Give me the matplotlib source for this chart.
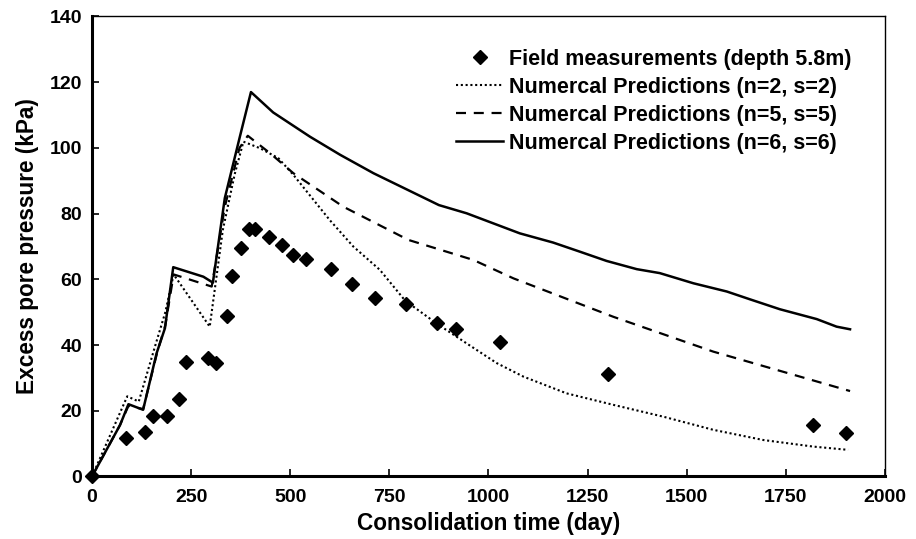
import matplotlib
matplotlib.use("Agg")
import matplotlib.pyplot as plt

plt.rcParams['font.family'] = ['Liberation Sans', 'DejaVu Sans']

# Field measurements (depth 5.8 m)
field_days = [0, 87, 134, 155, 189, 219, 237, 292, 314, 341, 353, 375, 395, 410,
              446, 479, 506, 541, 602, 655, 715, 792, 871, 917, 1029, 1301, 1819, 1902]
field_kpa = [0, 11.6, 13.5, 18.4, 18.4, 23.6, 34.8, 36.2, 34.5, 48.8, 61.1, 69.5, 75.3, 75.3,
             73.0, 70.4, 67.3, 66.1, 63.1, 58.6, 54.3, 52.5, 46.8, 44.8, 40.9, 31.1, 15.6, 13.1]

# Numerical predictions (n=2, s=2)
n2_days = [0, 89, 118, 160, 185, 206, 297, 330, 360, 382, 424, 470, 508, 600, 659, 726,
           790, 870, 945, 1021, 1088, 1197, 1315, 1441, 1567, 1693, 1819, 1907]
n2_kpa = [0, 24.4, 22.8, 40, 50, 61.5, 45.6, 75, 92, 101.9, 99.9, 96.9, 91.8, 78, 70, 62.9,
          53.5, 46.5, 40.5, 34.5, 30.4, 25.3, 21.8, 18.2, 14.2, 11.1, 9.1, 8.1]

# Numerical predictions (n=5, s=5)
n5_days = [0, 70, 92, 129, 165, 185, 206, 302, 335, 372, 393, 449, 508, 634, 798, 962,
           1063, 1315, 1567, 1912]
n5_kpa = [0, 15.5, 21.5, 20.5, 38, 46, 61.5, 57.8, 82, 100, 103.7, 98.4, 92.3, 82.1, 72,
          65.9, 60.3, 48.6, 38.0, 26.0]

# Numerical predictions (n=6, s=6)
n6_days = [0, 71, 92, 129, 163, 184, 205, 281, 305, 335, 373, 401, 457, 550, 626, 710,
           875, 945, 1079, 1163, 1231, 1298, 1374, 1432, 1517, 1601, 1660, 1735, 1828, 1878, 1912]
n6_kpa = [0, 15.7, 22.0, 20.3, 37.5, 45.1, 63.7, 60.8, 59.0, 84.7, 103.4, 117.0, 110.8,
          103.4, 97.9, 92.3, 82.6, 80.1, 74.0, 71.2, 68.4, 65.6, 63.1, 61.9, 58.8, 56.3,
          53.9, 50.9, 47.9, 45.6, 44.8]

x_ticks = [0, 250, 500, 750, 1000, 1250, 1500, 1750, 2000]
y_ticks = [0, 20, 40, 60, 80, 100, 120, 140]

fig = plt.figure(figsize=(9.16, 5.39), dpi=100)
ax = fig.add_axes([0.1004, 0.116, 0.8657, 0.8534])

ax.plot(field_days, field_kpa, linestyle='none', marker='D', markersize=7,
        color='black', label='Field measurements (depth 5.8m)', clip_on=False, zorder=5)
ax.plot(n2_days, n2_kpa, color='black', lw=1.5, linestyle=(0, (1, 1.3)),
        label='Numercal Predictions (n=2, s=2)')
ax.plot(n5_days, n5_kpa, color='black', lw=1.6, linestyle=(0, (4.5, 3.5)),
        label='Numercal Predictions (n=5, s=5)')
ax.plot(n6_days, n6_kpa, color='black', lw=1.8, linestyle='-',
        label='Numercal Predictions (n=6, s=6)')

ax.set_xlim(0, 2000)
ax.set_ylim(0, 140)
ax.set_xticks(x_ticks)
ax.set_yticks(y_ticks)
ax.tick_params(direction='in', length=5, width=1.2, labelsize=14)
ax.tick_params(axis='x', pad=9)
ax.tick_params(axis='y', pad=7)
for lab in ax.get_xticklabels() + ax.get_yticklabels():
    lab.set_fontweight('bold')

for s in ['left', 'bottom']:
    ax.spines[s].set_linewidth(2.2)
for s in ['top', 'right']:
    ax.spines[s].set_linewidth(1.0)

ax.set_xlabel('Consolidation time (day)', fontsize=16.3, fontweight='bold', labelpad=4)
ax.set_ylabel('Excess pore pressure (kPa)', fontsize=16.3, fontweight='bold', labelpad=8)

leg = ax.legend(loc='upper right', bbox_to_anchor=(0.969, 0.949), frameon=False,
                prop={'weight': 'bold', 'size': 15.5}, handlelength=2.2,
                handletextpad=0.28, labelspacing=0.33, borderaxespad=0.0)

fig.savefig('out.png', dpi=100)
